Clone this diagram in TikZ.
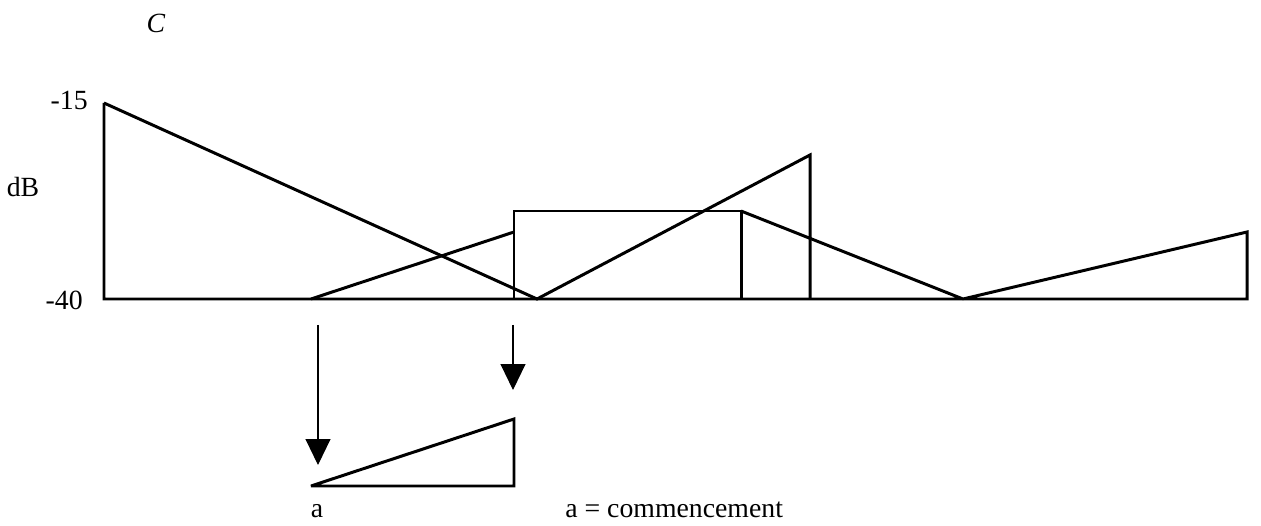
\documentclass[tikz,border=0pt]{standalone}
\usepackage{fontspec}
\setmainfont{Liberation Serif}
\usetikzlibrary{arrows.meta}
\begin{document}
\begin{tikzpicture}[x=0.02cm,y=-0.02cm,font=\fontsize{15.8}{18}\selectfont,
  curve/.style={line width=1.7pt,line join=miter,miter limit=2},
  drop/.style={line width=0.6pt,-{Triangle[length=0.52cm,width=0.5cm]}},
  lbl/.style={inner sep=0pt}]
\useasboundingbox (0,0) rectangle (1261,526);
% labels
\node[lbl,anchor=base] (title) at (156,33) {\textit{C}};
\node[lbl,anchor=base east] (hi) at (88,110) {-15};
\node[lbl,anchor=base] (unit) at (23,197) {dB};
\node[lbl,anchor=base east] (lo) at (83,310) {-40};
% corners of the traces
\coordinate (o) at (104,299);
\coordinate (peak) at (104,103);
\coordinate (v1) at (537,299);
\coordinate (s0) at (311,299);
\coordinate (s1) at (514,232);
\coordinate (r0) at (514,299);
\coordinate (r1) at (741,211);
\coordinate (t1) at (810,155);
\coordinate (t0) at (810,299);
\coordinate (v2) at (963,299);
\coordinate (e1) at (1247,232);
\coordinate (e0) at (1247,299);
\draw[curve] (peak) -- (o) -- (e0) -- (e1) -- (v2) -- (r1);
\draw[curve] (peak) -- (v1) -- (t1) -- (t0);
\draw[curve] (s0) -- (s1);
\draw[curve] (r0) rectangle (r1);
% extracted onset
\coordinate (a0) at (311,486);
\coordinate (a1) at (514,419);
\coordinate (a2) at (514,486);
\draw[curve] (a0) -- (a1) -- (a2) -- cycle;
\coordinate (d0) at (318,325);
\coordinate (d1) at (318,465);
\coordinate (d2) at (513,325);
\coordinate (d3) at (513,390);
\draw[drop] (d0) -- (d1);
\draw[drop] (d2) -- (d3);
\node[lbl,anchor=base] (onset) at (317,518) {a};
\node[lbl,anchor=base west] (note) at (565,518) {a = commencement};
\end{tikzpicture}
\end{document}
